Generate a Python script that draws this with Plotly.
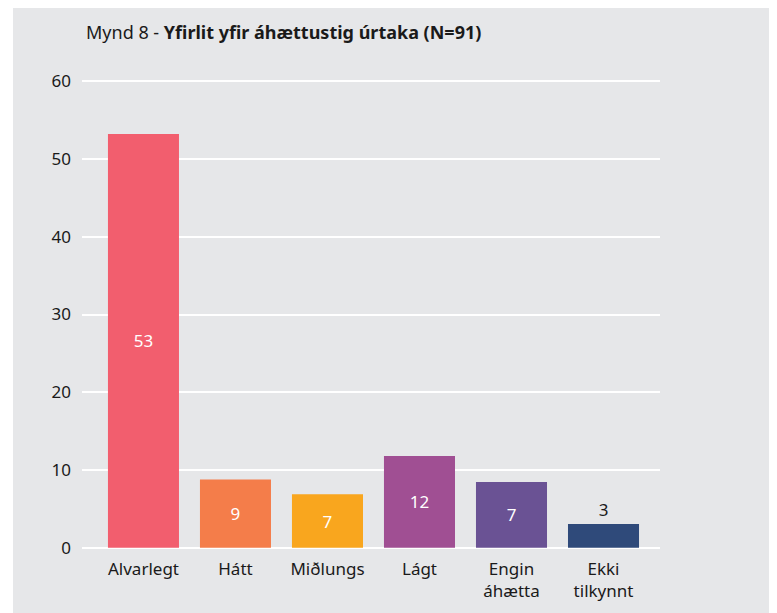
import plotly.graph_objects as go

# Mynd 8 - risk level overview of the sample (N=91)
categories = ["Alvarlegt", "Hátt", "Miðlungs", "Lágt", "Engin<br>áhætta", "Ekki<br>tilkynnt"]
bar_heights = [53.2, 8.8, 6.9, 11.8, 8.45, 3.05]   # as drawn in the picture
bar_labels = ["53", "9", "7", "12", "7", "3"]
bar_colors = ["#F25E6E", "#F47D4A", "#F9A61E", "#A04F93", "#6A5294", "#2F4A7A"]
y_ticks = [0, 10, 20, 30, 40, 50, 60]

BG = "#E6E7E9"
FONT = "Noto Sans"
TXT = "#1a1a1a"
W, H = 777, 613
# the page body adds an 8px offset, so everything is placed 8px up/left
L, R, T, B = 74, 125, 72, 72

fig = go.Figure()

fig.add_trace(go.Bar(
    x=list(range(len(categories))),
    y=bar_heights,
    text=bar_labels,
    textposition=["inside"] * 5 + ["outside"],
    insidetextanchor="middle",
    textangle=0,
    insidetextfont=dict(family=FONT, size=17, color="white"),
    outsidetextfont=dict(family=FONT, size=17, color=TXT),
    marker=dict(color=bar_colors, line=dict(width=0)),
    cliponaxis=False,
    hoverinfo="skip",
))

# white strip on the left edge of the page
pw = W - L - R
ph = H - T - B
fig.add_shape(type="rect", xref="paper", yref="paper", layer="below",
              x0=-L / pw, x1=(5 - L) / pw, y0=-B / ph, y1=1 + T / ph,
              fillcolor="white", line=dict(width=0))

fig.update_layout(
    width=W, height=H,
    margin=dict(l=L, r=R, t=T, b=B, pad=0),
    paper_bgcolor=BG,
    plot_bgcolor=BG,
    showlegend=False,
    bargap=0.228,
    font=dict(family=FONT, size=17, color=TXT),
    title=dict(
        text="Mynd 8 - <b>Yfirlit yfir áhættustig úrtaka (N=91)</b>",
        x=78 / W, xanchor="left", xref="container",
        y=1 - 25 / H, yanchor="middle", yref="container",
        font=dict(family=FONT, size=18, color=TXT),
    ),
    xaxis=dict(
        tickmode="array",
        tickvals=list(range(len(categories))),
        ticktext=categories,
        range=[-0.668, 5.614],
        showgrid=False,
        zeroline=False,
        showline=False,
        ticks="",
        ticklabelstandoff=8,
        tickfont=dict(family=FONT, size=17, color=TXT),
    ),
    yaxis=dict(
        range=[-0.15, 60.15],
        tickvals=y_ticks,
        showgrid=True,
        gridcolor="white",
        gridwidth=2,
        zeroline=False,
        showline=False,
        ticks="",
        ticklabelstandoff=10,
        tickfont=dict(family=FONT, size=17, color=TXT),
    ),
)

fig.write_html("out.html")
